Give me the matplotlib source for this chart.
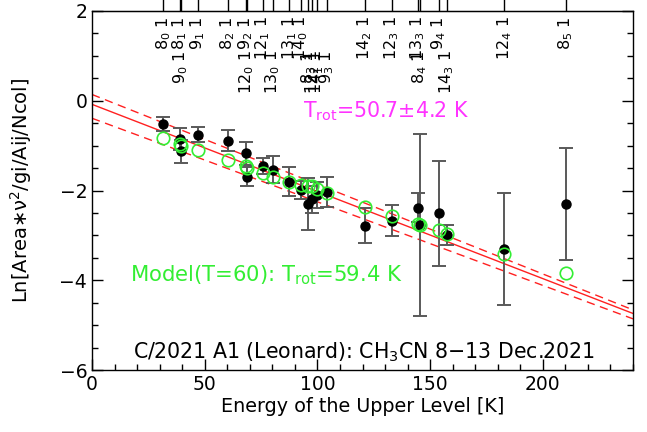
import matplotlib
matplotlib.use("Agg")
import matplotlib.pyplot as plt
import numpy as np

plt.rcParams['font.family'] = ['DejaVu Sans']
plt.rcParams['mathtext.default'] = 'regular'

# Transition data (upper-level energy in K)
J_up = [8, 8, 9, 9, 8, 9, 12, 12, 13, 13, 14, 8, 12, 14, 9, 14, 12, 13, 8, 9, 14, 12, 8]
K_up = [0, 1, 0, 1, 2, 2, 0, 1, 0, 1, 0, 3, 2, 1, 3, 2, 3, 3, 4, 4, 3, 4, 5]
label_row = [0, 0, 1, 0, 0, 0, 1, 0, 1, 0, 0, 1, 1, 1, 1, 0, 0, 0, 1, 0, 1, 0, 0]
energy = [31.6, 39.0, 39.3, 46.9, 60.2, 68.2, 68.6, 75.7, 80.2, 87.5, 92.6, 96.0, 97.7,
          99.6, 104.1, 121.1, 133.0, 144.5, 145.5, 153.8, 157.3, 182.9, 210.3]
observed = [-0.52, -0.85, -1.13, -0.76, -0.89, -1.17, -1.69, -1.45, -1.54, -1.80, -1.99,
            -2.30, -2.20, -2.10, -2.03, -2.78, -2.67, -2.38, -2.77, -2.51, -2.99, -3.30, -2.30]
obs_err = [0.15, 0.25, 0.26, 0.17, 0.24, 0.26, 0.22, 0.18, 0.30, 0.33, 0.20, 0.58, 0.30,
           0.28, 0.33, 0.40, 0.35, 0.33, 2.02, 1.17, 0.22, 1.25, 1.25]
model = [-0.84, -0.97, -1.00, -1.10, -1.32, -1.45, -1.50, -1.60, -1.69, -1.82, -1.88,
         -1.91, -1.91, -1.97, -2.05, -2.36, -2.57, -2.75, -2.77, -2.89, -2.97, -3.41, -3.83]

# Fit lines: values at x=0 and x=240
fit_x = [0, 240]
fit_mid = [-0.08, -4.74]
fit_hi = [0.14, -4.66]
fit_lo = [-0.39, -4.86]

fig = plt.figure(figsize=(6.47, 4.32), dpi=100)
ax = fig.add_axes([92/647, 1-370/432, (633-92)/647, (370-11)/432])

ax.plot(fit_x, fit_mid, color='#ff2020', lw=1.0, zorder=2)
ax.plot(fit_x, fit_hi, color='#ff2020', lw=1.0, ls=(0, (6, 4)), zorder=2)
ax.plot(fit_x, fit_lo, color='#ff2020', lw=1.0, ls=(0, (6, 4)), zorder=2)

eb = ax.errorbar(energy, observed, yerr=obs_err, fmt='o', color='black', ms=6.5,
                 ecolor='0.35', elinewidth=1.4, capsize=5, capthick=1.4, zorder=3)
for cl in eb[1]:
    cl.set_color('black')

ax.plot(energy, model, 'o', mfc='none', mec='#33ee33', mew=1.2, ms=9, zorder=4)

ax.set_xlim(0, 240)
ax.set_ylim(-6, 2)
ax.set_xticks([0, 50, 100, 150, 200])
ax.set_xticks(np.arange(0, 241, 10), minor=True)
ax.set_yticks([-6, -4, -2, 0, 2])
ax.set_yticks(np.arange(-6, 2.01, 0.5), minor=True)
ax.tick_params(which='both', direction='in', left=True, right=True, bottom=True, top=False,
               labelsize=13.5)
ax.tick_params(which='major', length=8, width=1)
ax.tick_params(which='minor', length=4, width=1)
for s in ax.spines.values():
    s.set_linewidth(1.0)

# top ticks at line energies
sec = ax.secondary_xaxis('top')
sec.set_xticks(energy)
sec.set_xticklabels([])
sec.tick_params(direction='out', length=10, width=1)
sec.xaxis.set_minor_locator(matplotlib.ticker.NullLocator())

for e, j, k, r in zip(energy, J_up, K_up, label_row):
    y = 1.88 if r == 0 else 1.13
    ax.text(e, y, f'{j}$_{{{k}}}$ 1', rotation=90, ha='center', va='top', fontsize=11.5,
            family=['Liberation Sans Narrow', 'DejaVu Sans'])

ax.set_xlabel('Energy of the Upper Level [K]', fontsize=13.8, labelpad=2)
ax.set_ylabel(r'Ln[Area$\ast\nu^2$/gi/Aij/Ncol]', fontsize=14)
ax.yaxis.set_label_coords(-0.108, 0.5)

ax.text(93.5, -0.38, r'T$_{rot}$=50.7$\pm$4.2 K', color='#ff33ff', fontsize=14.8, va='baseline')
ax.text(17, -4.02, r'Model(T=60): T$_{rot}$=59.4 K', color='#33ee33', fontsize=15.2, va='baseline')
ax.text(18, -5.75, r'C/2021 A1 (Leonard): CH$_3$CN 8$-$13 Dec.2021', color='black',
        fontsize=14.8, va='baseline')

fig.savefig('out.png', dpi=100)
